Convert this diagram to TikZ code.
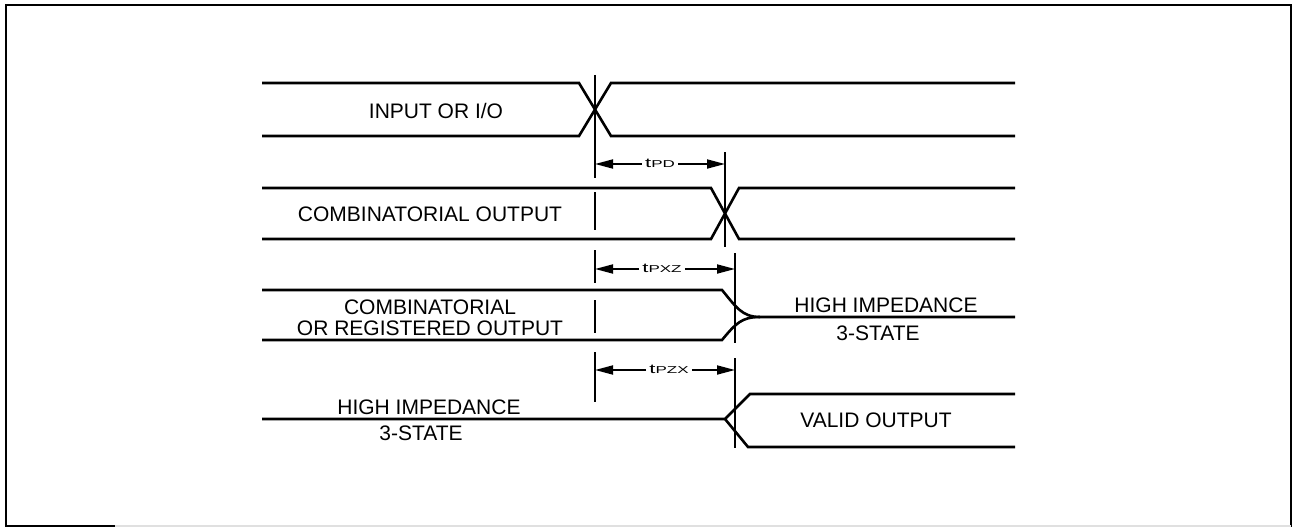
\documentclass[tikz,border=0pt]{standalone}
\usepackage{fontspec}
\setmainfont{Liberation Sans}
\usetikzlibrary{arrows.meta}
\tikzset{
  sig/.style={line width=2.6pt, line join=miter},
  vline/.style={line width=2.4pt},
  lbl/.style={font=\fontsize{21}{21.5}\selectfont, inner sep=0pt, align=center},
  tlbl/.style={inner sep=0pt, inner xsep=3pt, anchor=base},
  dimarrow/.style={line width=1.8pt, -{Triangle[length=18pt,width=9pt]}},
  frameline/.style={line width=2.8pt}
}
\newcommand\tlabel[1]{\scalebox{1.7}[1]{\fontsize{13}{13}\selectfont t\fontsize{10}{10}\selectfont #1}}
\begin{document}
\begin{tikzpicture}[x=1pt,y=-1pt]
\useasboundingbox (0,0) rectangle (1298,527);
% frame
\draw[frameline] (115,526) -- (6,526) -- (6,5) -- (1291,5) -- (1291,527);
\draw[line width=1.5pt, black!12] (115,526) -- (1291,526);

% signal 1: input
\draw[sig] (262,83) -- (579,83) -- (611,136) -- (1015,136);
\draw[sig] (262,136) -- (579,136) -- (611,83) -- (1015,83);
\node[lbl] (in) at (436,111) {INPUT OR I/O};

% signal 2: combinatorial output
\draw[sig] (262,188) -- (711,188) -- (739,239) -- (1015,239);
\draw[sig] (262,239) -- (711,239) -- (739,188) -- (1015,188);
\node[lbl] (co) at (430,214) {COMBINATORIAL OUTPUT};

% signal 3: to high impedance
\draw[sig] (262,290) -- (722,290) .. controls (736,307) and (742,317) .. (760,317) -- (1015,317);
\draw[sig] (262,340) -- (722,340) .. controls (736,323) and (742,317) .. (760,317);
\node[lbl] (cr) at (430,318) {COMBINATORIAL\\OR REGISTERED OUTPUT};
\node[lbl] (hz1) at (886,305) {HIGH IMPEDANCE};
\node[lbl] (st1) at (878,333) {3-STATE};

% signal 4: from high impedance
\draw[sig] (262,419) -- (725,419) -- (750,394) -- (1015,394);
\draw[sig] (725,419) -- (748,447) -- (1015,447);
\node[lbl] (hz2) at (429,407) {HIGH IMPEDANCE};
\node[lbl] (st2) at (421,433) {3-STATE};
\node[lbl] (vo) at (876,420) {VALID OUTPUT};

% reference verticals
\draw[vline] (595,75) -- (595,178);
\draw[vline] (595,192) -- (595,230);
\draw[vline] (595,250) -- (595,283);
\draw[vline] (595,300) -- (595,333);
\draw[vline] (595,352) -- (595,402);
\draw[vline] (725,152) -- (725,247);
\draw[vline] (735,253) -- (735,343);
\draw[vline] (735,358) -- (735,448);

% timing dimensions
\coordinate (pdA) at (595,164);
\coordinate (pdB) at (725,164);
\node[tlbl] (pd) at (660,167) {\tlabel{PD}};
\draw[dimarrow] (pd.west |- pdA) -- (pdA);
\draw[dimarrow] (pd.east |- pdB) -- (pdB);

\coordinate (xzA) at (595,269);
\coordinate (xzB) at (735,269);
\node[tlbl] (xz) at (662,272) {\tlabel{PXZ}};
\draw[dimarrow] (xz.west |- xzA) -- (xzA);
\draw[dimarrow] (xz.east |- xzB) -- (xzB);

\coordinate (zxA) at (595,370);
\coordinate (zxB) at (735,370);
\node[tlbl] (zx) at (669,373) {\tlabel{PZX}};
\draw[dimarrow] (zx.west |- zxA) -- (zxA);
\draw[dimarrow] (zx.east |- zxB) -- (zxB);
\end{tikzpicture}
\end{document}
